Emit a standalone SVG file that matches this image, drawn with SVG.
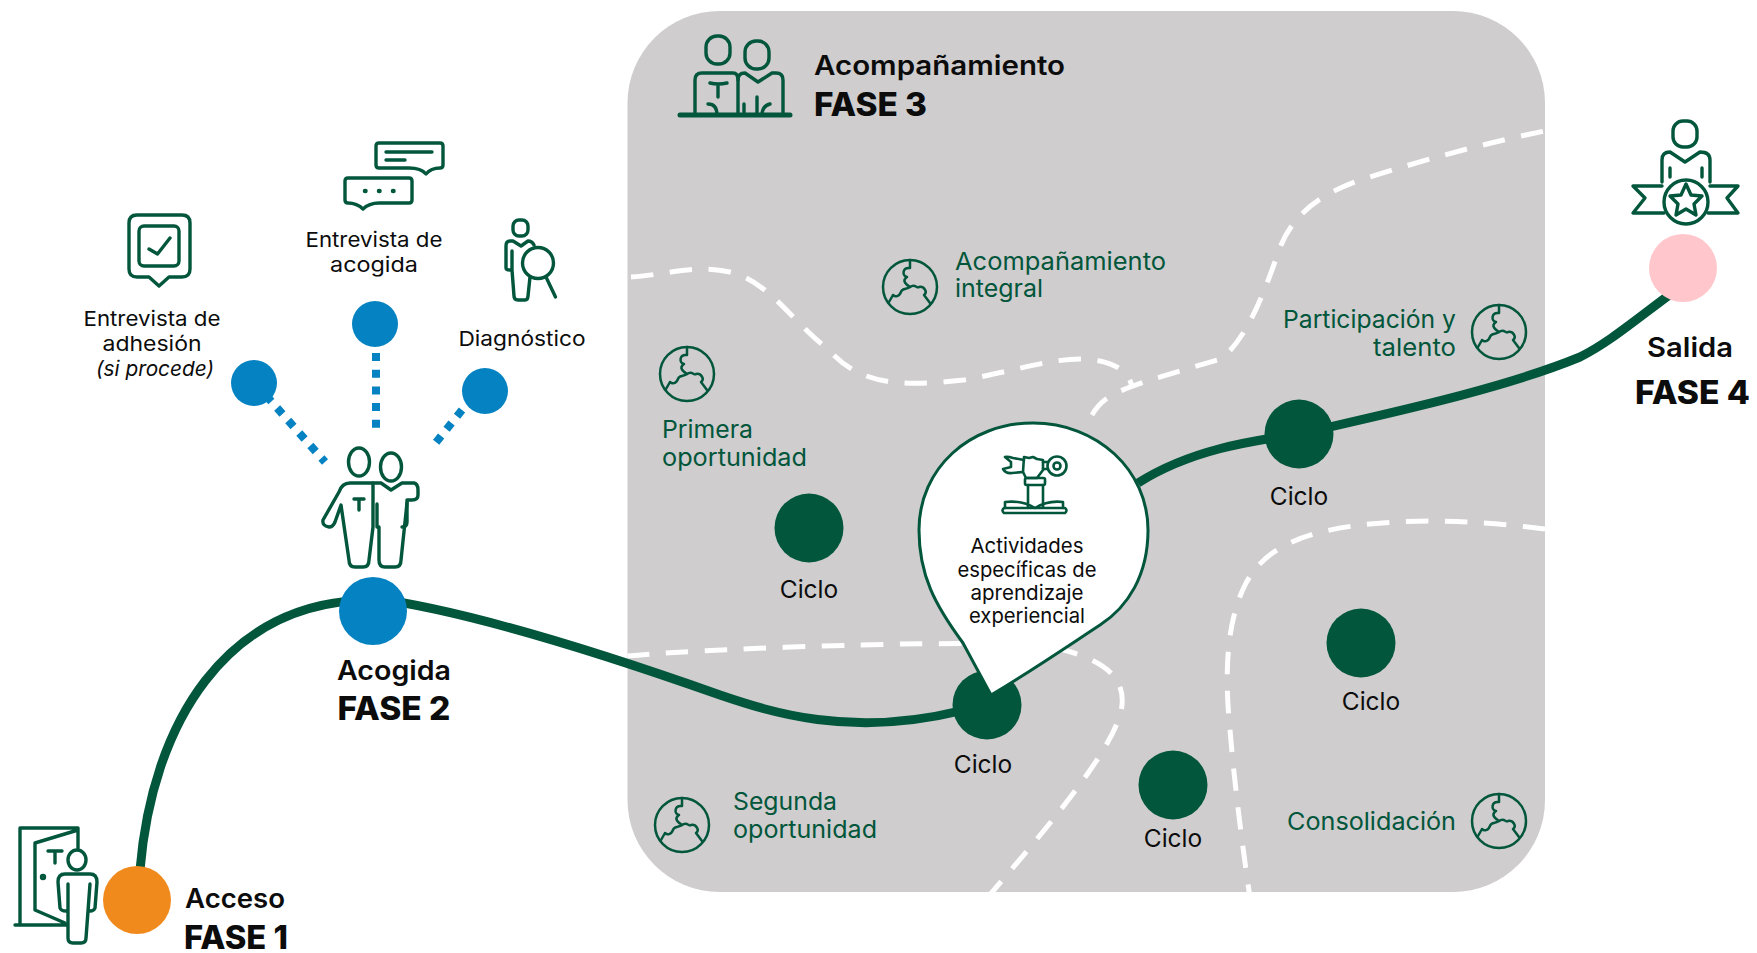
<svg xmlns="http://www.w3.org/2000/svg" width="1757" height="953" viewBox="0 0 1757 953">
<style>
text{font-family:Inter,"Liberation Sans",sans-serif;fill:#0c0c0c}
.m{text-anchor:middle}
.s{font-size:20.5px}
.c{font-size:24.5px}
.g{font-size:24.5px;fill:#02563b;font-weight:400}
.h{font-size:27px;font-weight:600}
.f{font-size:32px;font-weight:800}
.ic,.ic *{fill:none;stroke:#02563b;stroke-width:3.4;stroke-linecap:round;stroke-linejoin:round}
.ic.thin *{stroke-width:2.6}
.ic.pz *{stroke-width:2.5}
.ic .thick{stroke-width:5}
.ic .dots{stroke-width:4.5}
.path{fill:none;stroke:#02563b;stroke-width:9}
.dash{fill:none;stroke:#fff;stroke-width:5;stroke-dasharray:22.5 16.5}
.dot{fill:none;stroke:#0582c1;stroke-width:8;stroke-dasharray:8 8.7}
.cy{fill:#02563b}
.bl{fill:#0582c1}
</style>
<defs>
<clipPath id="panel-clip"><rect x="627.5" y="11" width="917.5" height="881" rx="92"/></clipPath>
<g id="puzzle" class="ic pz">
<circle r="27"/>
<path d="M0,-27V-19C-8,-20 -8,-11 -3,-10C-9,-6 -3,-2 0,0C-5,3 -8,1 -9,5C-11,10 -15,10 -17,8L-21,15"/>
<path d="M0,0C5,-4 7,2 9,0C14,-1 18,5 14,8L20,16"/>
</g>
</defs>

<g id="fase3-panel">
<rect x="627.5" y="11" width="917.5" height="881" rx="92" fill="#cfcdce"/>
</g>

<g id="region-boundaries" clip-path="url(#panel-clip)">
<path class="dash" d="M631,277C665,275 695,264 730,272C770,282 790,320 829,350C860,385 900,387 964,380C1020,370 1060,355 1095,360C1120,364 1130,375 1132,387"/>
<path class="dash" d="M1092,415C1105,392 1125,387 1221,359C1245,340 1262,300 1279,250C1292,215 1320,192 1370,177C1430,158 1490,142 1545,131"/>
<path class="dash" d="M627,656C680,651 780,647 860,645C940,643 1020,642 1064,650C1100,660 1125,675 1122,705C1118,745 1050,825 975,912"/>
<path class="dash" d="M1545,529C1490,522 1430,518 1370,524C1310,530 1265,545 1245,585C1225,625 1225,680 1230,730C1235,790 1243,850 1252,912"/>
</g>

<g id="connectors">
<path class="path" d="M140,870C152,725 225,600 372,600"/>
<path class="path" d="M372,598C450,608 570,642 720,695C770,712 850,738 960,711"/>
<path class="path" d="M1138,483C1190,450 1250,441 1299,434C1380,415 1500,390 1580,357C1610,342 1635,320 1680,287"/>
<path class="dot" d="M255,383L325,462"/>
<path class="dot" d="M376,353V428"/>
<path class="dot" d="M462,410L434,445"/>
</g>

<g id="node-fase1">
<circle cx="137" cy="900" r="34" fill="#f18a1c"/>
<g class="ic">
<path d="M15,925H67M20,925V828H78V848M35,843L78,830M35,843V910L65,923"/>
<path d="M48,851H62M55,851V863"/>
<circle cx="43" cy="877" r="1.5"/>
<ellipse cx="77" cy="860" rx="9" ry="10"/>
<path d="M58,882Q58,874 65,874H90Q97,874 97,882L95,908Q94,911 90,911M58,882L60,908Q61,911 66,911M68,884V938Q68,943 73,943H81Q86,943 86,938L90,884"/>
</g>
<text class="h" x="185" y="908" textLength="100" lengthAdjust="spacingAndGlyphs">Acceso</text>
<text class="f" x="184" y="949" textLength="104" lengthAdjust="spacingAndGlyphs">FASE 1</text>
</g>

<g id="node-fase2">
<circle class="bl" cx="373" cy="611" r="34"/>
<g class="ic">
<ellipse cx="359" cy="462" rx="10.5" ry="14"/>
<ellipse cx="391" cy="467" rx="10.5" ry="14"/>
<path d="M373,483H350Q342,483 339,492L323,520Q322,526 329,527Q333,527 335,522L341,505L349,560Q349,567 355,567H363Q369,567 369,560L373,527V483"/>
<path d="M373,483H381L391,490L402,483H414Q418,484 418,490V495Q418,500 412,500H407V522Q407,527 402,527"/>
<path d="M377,504V527M379,527V560Q379,567 385,567H395Q401,567 401,560L407,503"/>
<path d="M354,499H364M359,499V510"/>
</g>
<text class="h m" x="394" y="680" textLength="114" lengthAdjust="spacingAndGlyphs">Acogida</text>
<text class="f m" x="394" y="720" textLength="113" lengthAdjust="spacingAndGlyphs">FASE 2</text>
</g>

<g id="node-adhesion">
<circle class="bl" cx="254" cy="383" r="23"/>
<g class="ic">
<path d="M137,215H182Q190,215 190,223V269Q190,277 182,277H169L159,286L149,277H137Q129,277 129,269V223Q129,215 137,215Z"/>
<rect x="139" y="226" width="40" height="40" rx="5"/>
<path d="M149,249L157.5,254L170,238"/>
</g>
<text class="s m" x="152" y="326" textLength="137" lengthAdjust="spacingAndGlyphs">Entrevista de</text>
<text class="s m" x="152" y="351" textLength="99" lengthAdjust="spacingAndGlyphs">adhesión</text>
<text class="s m" x="155" y="376" font-style="italic" textLength="118" lengthAdjust="spacingAndGlyphs">(si procede)</text>
</g>

<g id="node-acogida-entrevista">
<circle class="bl" cx="375" cy="324" r="23"/>
<g class="ic">
<path d="M379,143H440Q443,143 443,146V165Q443,168 440,168Q431,168 426,174Q421,168 409,168H379Q376,168 376,165V146Q376,143 379,143Z"/>
<path d="M386,152H432M386,160H405"/>
<path d="M348,178H409Q412,178 412,181V200Q412,203 409,203H379Q369,203 363,209Q357,203 348,203Q345,203 345,200V181Q345,178 348,178Z"/>
<path class="dots" d="M365,191h.5M379,191h.5M393,191h.5"/>
</g>
<text class="s m" x="374" y="247" textLength="137" lengthAdjust="spacingAndGlyphs">Entrevista de</text>
<text class="s m" x="374" y="272" textLength="88" lengthAdjust="spacingAndGlyphs">acogida</text>
</g>

<g id="node-diagnostico">
<circle class="bl" cx="485" cy="391" r="23"/>
<g class="ic">
<rect x="513" y="220" width="15" height="16" rx="6"/>
<path d="M534,245Q532,241 528,241L521,246L513,241H510Q506,241 506,246V268Q506,270 510,270M512,251V270M512,270L514,296Q514,300 518,300H525Q528,300 528,296L530,277"/>
<circle cx="538" cy="263" r="15.5"/>
<path d="M546,277L555.5,297"/>
</g>
<text class="s m" x="522" y="346" textLength="127" lengthAdjust="spacingAndGlyphs">Diagnóstico</text>
</g>

<g id="node-fase3-title">
<g class="ic">
<path class="thick" d="M680,115H790"/>
<rect x="706" y="36" width="24" height="28" rx="11"/>
<rect x="745" y="41" width="24" height="28" rx="11"/>
<path d="M695,115V80Q695,73 702,73H733Q738,73 738,80V115"/>
<path d="M738,80Q738,73 745,73L758,82L772,73H776Q783,73 783,80V115"/>
<path d="M710,83Q718,85 727,83M718,84V97M708,104Q717,104 717,115M744,104V115M757,97V115M770,104Q762,106 762,115"/>
</g>
<text class="h" x="814" y="75" textLength="251" lengthAdjust="spacingAndGlyphs">Acompañamiento</text>
<text class="f" x="814" y="116" textLength="113" lengthAdjust="spacingAndGlyphs">FASE 3</text>
</g>

<g id="node-acompanamiento-integral">
<use href="#puzzle" x="910" y="287"/>
<text class="g" x="955" y="270" textLength="211" lengthAdjust="spacingAndGlyphs">Acompañamiento</text>
<text class="g" x="955" y="297" textLength="88" lengthAdjust="spacingAndGlyphs">integral</text>
</g>

<g id="node-participacion">
<use href="#puzzle" x="1499" y="332"/>
<text class="g" x="1283" y="328" textLength="173" lengthAdjust="spacingAndGlyphs">Participación y</text>
<text class="g" x="1373" y="356" textLength="83" lengthAdjust="spacingAndGlyphs">talento</text>
</g>

<g id="node-primera">
<use href="#puzzle" x="687" y="374"/>
<text class="g" x="662" y="438" textLength="91" lengthAdjust="spacingAndGlyphs">Primera</text>
<text class="g" x="662" y="466" textLength="145" lengthAdjust="spacingAndGlyphs">oportunidad</text>
</g>

<g id="node-segunda">
<use href="#puzzle" x="682" y="825"/>
<text class="g" x="733" y="810" textLength="104" lengthAdjust="spacingAndGlyphs">Segunda</text>
<text class="g" x="733" y="838" textLength="144" lengthAdjust="spacingAndGlyphs">oportunidad</text>
</g>

<g id="node-consolidacion">
<use href="#puzzle" x="1499" y="821"/>
<text class="g" x="1287" y="830" textLength="169" lengthAdjust="spacingAndGlyphs">Consolidación</text>
</g>

<g id="node-ciclo-1"><circle class="cy" cx="809" cy="528" r="34.5"/><text class="c m" x="809" y="598">Ciclo</text></g>
<g id="node-ciclo-2"><circle class="cy" cx="987" cy="705" r="34.5"/><text class="c m" x="983" y="773">Ciclo</text></g>
<g id="node-ciclo-3"><circle class="cy" cx="1299" cy="434" r="34.5"/><text class="c m" x="1299" y="505">Ciclo</text></g>
<g id="node-ciclo-4"><circle class="cy" cx="1361" cy="643" r="34.5"/><text class="c m" x="1371" y="710">Ciclo</text></g>
<g id="node-ciclo-5"><circle class="cy" cx="1173" cy="785" r="34.5"/><text class="c m" x="1173" y="847">Ciclo</text></g>

<g id="node-actividades">
<path d="M991,695L963,643C935,605 919,575 919,530C919,468 970,423 1033,423C1097,423 1148,470 1148,530C1148,575 1128,607 1100,625C1065,648 1030,672 991,695Z" fill="#fff" stroke="#02563b" stroke-width="3"/>
<g class="ic thin">
<path d="M1024,460L1013,458Q1007,456 1005,457L1011,462V467L1003,469Q1006,474 1012,473L1023,472"/>
<circle cx="1057" cy="466" r="9.5"/><circle cx="1057" cy="466" r="3.5"/>
<path d="M1043,462H1048M1043,469H1048"/>
<path d="M1024,457L1029,458L1033,457L1037,459L1043,460V470L1037,478H1026L1023,472Z"/>
<rect x="1025" y="478" width="20" height="7" rx="1.5"/>
<path d="M1028,485V507M1043,485V507"/>
<path d="M1005,508V502Q1022,500 1035,508Q1048,500 1063,502V508"/>
<path d="M1004,508H1065Q1068,510.500 1065,513H1004Q1001,510.500 1004,508Z"/>
</g>
<text class="s m" x="1027" y="553" textLength="113" lengthAdjust="spacingAndGlyphs">Actividades</text>
<text class="s m" x="1027" y="577" textLength="139" lengthAdjust="spacingAndGlyphs">específicas de</text>
<text class="s m" x="1027" y="600" textLength="113" lengthAdjust="spacingAndGlyphs">aprendizaje</text>
<text class="s m" x="1027" y="623" textLength="116" lengthAdjust="spacingAndGlyphs">experiencial</text>
</g>

<g id="node-fase4">
<circle cx="1683" cy="268" r="34" fill="#ffc6cb"/>
<g class="ic">
<rect x="1673" y="121" width="24" height="26" rx="10"/>
<path d="M1662,182V160Q1662,152 1670,152L1685,162L1700,152Q1710,152 1710,160V182M1670,168V177M1702,168V177"/>
<circle cx="1686" cy="202" r="22"/>
<path d="M1686,184L1691,195L1702,196L1694,204L1696,215L1686,209L1676,215L1678,204L1670,196L1681,195Z"/>
<path d="M1662,186H1633L1645,198L1633,213H1664"/>
<path d="M1710,186H1738L1727,198L1738,213H1708"/>
</g>
<text class="h" x="1647" y="357" textLength="86" lengthAdjust="spacingAndGlyphs">Salida</text>
<text class="f" x="1635" y="404" textLength="115" lengthAdjust="spacingAndGlyphs">FASE 4</text>
</g>
</svg>
